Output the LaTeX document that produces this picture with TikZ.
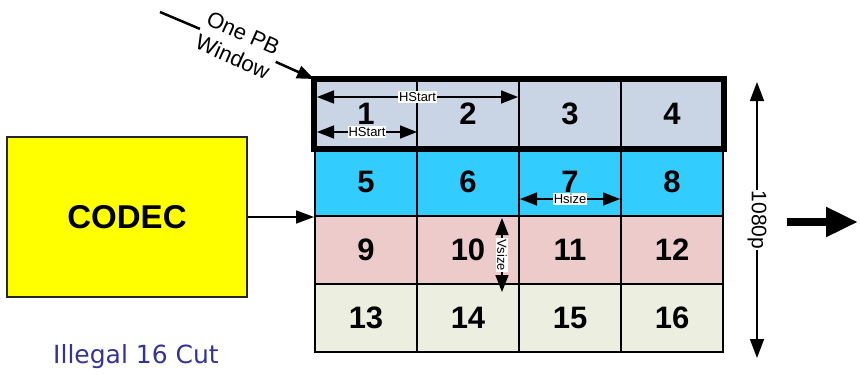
\documentclass[tikz,border=0pt]{standalone}
\usepackage{fontspec}
\setmainfont{Liberation Sans}
\newfontfamily\cutfont{DejaVu Sans}
\usetikzlibrary{arrows.meta}

\definecolor{rowa}{HTML}{C9D5E4}
\definecolor{rowb}{HTML}{33CCFF}
\definecolor{rowc}{HTML}{EDCBCB}
\definecolor{rowd}{HTML}{ECEFDF}
\definecolor{codecfill}{HTML}{FFFF00}
\definecolor{cutblue}{HTML}{333399}

\tikzset{
    cell/.style={draw=black, line width=2pt, minimum width=102pt, minimum height=68pt,
        inner sep=0pt, font=\fontsize{31}{31}\selectfont\bfseries},
    dimline/.style={line width=1.6pt,
        {Triangle[length=17pt,width=13pt]}-{Triangle[length=17pt,width=13pt]}},
    dimlabel/.style={fill=white, inner sep=1pt, font=\fontsize{13}{13}\selectfont},
    feed/.style={line width=1.6pt, -{Triangle[length=18pt,width=13pt]}},
}

\begin{document}
\begin{tikzpicture}[x=1pt, y=-1pt]
        \useasboundingbox (0,0) rectangle (860,375);

        % Draw the 16 cells of the frame
        \foreach \r/\rowfill in {0/rowa,1/rowb,2/rowc,3/rowd}
            \foreach \c in {0,...,3} {
                \pgfmathtruncatemacro{\n}{4*\r+\c+1}
                \node[cell, fill=\rowfill] (c\n) at ({366+102*\c},{114+68*\r}) {\n};
            }

        % Draw the PB window (first row)
        \draw[line width=5.5pt] (c1.north west) rectangle (c4.south east);

        % Draw the codec and its feed
        \node[draw=black!85, line width=2pt, fill=codecfill, minimum width=240pt,
            minimum height=160pt, font=\fontsize{33}{33}\selectfont\bfseries] (codec) at (127,217) {CODEC};
        \draw[feed] (codec.east) -- (c5.south west);
        \node[cutblue, anchor=base, font=\cutfont\fontsize{25}{25}\selectfont] (cut) at (136,363) {Illegal 16 Cut};

        % Draw the window label
        \coordinate (pbtail) at (160,12);
        \node[rotate=-24, align=center, inner sep=2pt, font=\fontsize{22}{26}\selectfont] (pb) at (238,45) {One PB\\Window};
        \draw[line width=2.5pt] (pbtail) -- (pb);
        \draw[line width=2.5pt, -{Triangle[length=17pt,width=13pt]}] (pb) -- (c1.north west);

        % Draw the dimensions
        \coordinate (hsa) at (317,97);
        \coordinate (hsb) at (518,97);
        \draw[dimline] (hsa) -- node[dimlabel] (hslabel) {HStart} (hsb);
        \coordinate (hxa) at (317,132);
        \coordinate (hxb) at (417,132);
        \draw[dimline] (hxa) -- node[dimlabel] (hxlabel) {HStart} (hxb);
        \coordinate (hza) at (520,199);
        \coordinate (hzb) at (620,199);
        \draw[dimline] (hza) -- node[dimlabel] (hzlabel) {Hsize} (hzb);
        \coordinate (vza) at (502,218);
        \coordinate (vzb) at (502,292);
        \draw[dimline] (vza) -- node[dimlabel, rotate=-90] (vzlabel) {Vsize} (vzb);

        % Draw the frame height
        \coordinate (fha) at (757,82);
        \coordinate (fhb) at (757,358);
        \draw[line width=1.6pt, {Triangle[length=19pt,width=14pt]}-{Triangle[length=19pt,width=14pt]}]
            (fha) -- node[fill=white, inner sep=1pt, rotate=-90, font=\fontsize{21}{21}\selectfont] (fhlabel) {1080p} (fhb);

        % Draw the output arrow
        \coordinate (outtail) at (787,222);
        \coordinate (outtip) at (858,222);
        \draw[line width=8pt, -{Triangle[length=32pt,width=28pt]}] (outtail) -- (outtip);
    \end{tikzpicture}
\end{document}
